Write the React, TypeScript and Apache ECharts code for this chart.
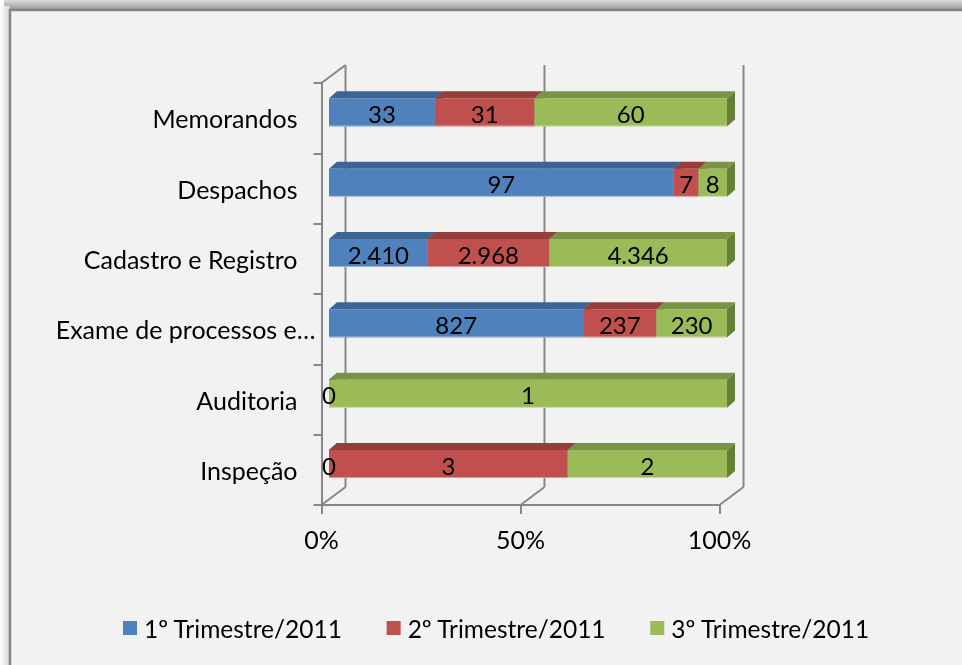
import React, { useEffect, useRef } from 'react';
import * as echarts from 'echarts';

// ---------- data ----------
const categories = [
  'Inspeção',
  'Auditoria',
  'Exame de processos e…',
  'Cadastro e Registro',
  'Despachos',
  'Memorandos',
];
const seriesNames = ['1º Trimestre/2011', '2º Trimestre/2011', '3º Trimestre/2011'];
const q1: (number | null)[] = [0, 0, 827, 2410, 97, 33];
const q2: (number | null)[] = [3, null, 237, 2968, 7, 31];
const q3: (number | null)[] = [2, 1, 230, 4346, 8, 60];
const xTicks = [0, 50, 100];

// ---------- styling ----------
const FRONT = ['#4F81BD', '#C0504D', '#9BBB59'];
const TOP = ['#3D6594', '#953E3C', '#7A9446'];
const SIDE = ['#32547C', '#7C3331', '#66803A'];
const AXIS = '#878787';
const FONT = 'Lato, "Open Sans", sans-serif';
const FS_CAT = 25;
const FS_LEG = 24.5;
const FS_LBL = 24;

const GRID_LEFT = 321.5;
const GRID_TOP = 83;
const GRID_W = 398;
const GRID_H = 422;
const BAR_SHIFT_X = 7.5;
const BAR_SHIFT_Y = -5.8;
const DEPTH_X = 24;
const DEPTH_Y = -18;
const BAR_DX = 8;
const BAR_DY = -7;

const fmt = (v: number) => String(v).replace(/\B(?=(\d{3})+(?!\d))/g, '.');

export default function App() {
  const ref = useRef<HTMLDivElement>(null);

  useEffect(() => {
    if (!ref.current) return;
    const chart = echarts.init(ref.current, undefined, { renderer: 'svg' });

    const all = [q1, q2, q3];
    const totals = categories.map((_, i) => all.reduce((s, arr) => s + (arr[i] ?? 0), 0));

    const barSeries = all.map((arr, k) => {
      const data: any[] = [];
      categories.forEach((_, i) => {
        const v = arr[i];
        if (v === null || v === undefined) return;
        let start = 0;
        for (let j = 0; j < k; j++) start += all[j][i] ?? 0;
        const s = (start / totals[i]) * 100;
        const e = ((start + v) / totals[i]) * 100;
        data.push([s, e, i, v]);
      });
      return {
        type: 'custom',
        name: seriesNames[k],
        xAxisIndex: 1,
        yAxisIndex: 1,
        clip: false,
        itemStyle: { color: FRONT[k] },
        encode: { x: [0, 1], y: 2 },
        data,
        renderItem: (params: any, api: any) => {
          const s = api.value(0);
          const e = api.value(1);
          const c = api.value(2);
          const raw = api.value(3);
          const p0 = api.coord([s, c]);
          const p1 = api.coord([e, c]);
          const band = api.size([0, 1])[1];
          const h = band * 0.4;
          const x0 = p0[0];
          const x1 = p1[0];
          const yT = p0[1] - h / 2;
          const yB = p0[1] + h / 2;
          return {
            type: 'group',
            children: [
              {
                type: 'polygon',
                shape: { points: [[x1, yT], [x1 + BAR_DX, yT + BAR_DY], [x1 + BAR_DX, yB + BAR_DY], [x1, yB]] },
                style: { fill: SIDE[k] },
              },
              {
                type: 'polygon',
                shape: { points: [[x0, yT], [x1, yT], [x1 + BAR_DX, yT + BAR_DY], [x0 + BAR_DX, yT + BAR_DY]] },
                style: { fill: TOP[k] },
              },
              {
                type: 'rect',
                shape: { x: x0, y: yT, width: Math.max(0, x1 - x0), height: h },
                style: { fill: FRONT[k] },
              },
              {
                type: 'line',
                shape: { x1: x0, y1: yB - 0.5, x2: x1, y2: yB - 0.5 },
                style: { stroke: 'rgba(255,255,255,0.45)', lineWidth: 1 },
              },
              {
                type: 'text',
                z2: 100,
                style: {
                  text: fmt(raw),
                  x: (x0 + x1) / 2,
                  y: p0[1] + 1,
                  align: 'center',
                  verticalAlign: 'middle',
                  fill: '#000',
                  fontSize: FS_LBL,
                  fontFamily: FONT,
                },
              },
            ],
          };
        },
      };
    });

    const frameSeries = {
      type: 'custom',
      name: 'frame',
      xAxisIndex: 0,
      yAxisIndex: 0,
      clip: false,
      silent: true,
      encode: { x: 0 },
      data: xTicks.map((t) => [t, 0]),
      renderItem: (params: any, api: any) => {
        const t = api.value(0);
        const cs = params.coordSys;
        const x = api.coord([t, 0])[0];
        const yTop = cs.y;
        const yBot = cs.y + cs.height;
        const ls = { stroke: AXIS, lineWidth: 2 };
        const children: any[] = [
          { type: 'line', shape: { x1: x + DEPTH_X, y1: yTop + DEPTH_Y, x2: x + DEPTH_X, y2: yBot + DEPTH_Y }, style: ls },
          { type: 'line', shape: { x1: x, y1: yBot, x2: x + DEPTH_X, y2: yBot + DEPTH_Y }, style: ls },
        ];
        if (t === 0) {
          children.push({ type: 'line', shape: { x1: x, y1: yTop, x2: x + DEPTH_X, y2: yTop + DEPTH_Y }, style: ls });
        }
        return { type: 'group', children };
      },
    };

    const option: any = {
      animation: false,
      color: FRONT,
      graphic: [
        {
          type: 'rect',
          z: -10,
          shape: { x: 4, y: 0, width: 958, height: 10 },
          style: {
            fill: new echarts.graphic.LinearGradient(0, 0, 0, 1, [
              { offset: 0, color: '#dcdcdc' },
              { offset: 1, color: '#959595' },
            ]),
          },
        },
        {
          type: 'rect',
          z: -10,
          shape: { x: 0, y: 6, width: 10, height: 659 },
          style: {
            fill: new echarts.graphic.LinearGradient(0, 0, 1, 0, [
              { offset: 0, color: '#ffffff' },
              { offset: 1, color: '#d2d2d2' },
            ]),
          },
        },
        {
          type: 'rect',
          z: -9,
          shape: { x: 10, y: 10, width: 980, height: 700 },
          style: { fill: '#f2f2f2', stroke: '#858585', lineWidth: 2.5 },
        },
      ],
      legend: {
        data: seriesNames,
        left: 123,
        top: 614,
        padding: 0,
        itemWidth: 14,
        itemHeight: 14,
        itemGap: 44,
        icon: 'rect',
        textStyle: {
          fontSize: FS_LEG,
          fontFamily: FONT,
          color: '#000',
          padding: [0, 0, 0, 2],
          lineHeight: 28,
        },
      },
      grid: [
        { left: GRID_LEFT, top: GRID_TOP, width: GRID_W, height: GRID_H },
        { left: GRID_LEFT + BAR_SHIFT_X, top: GRID_TOP + BAR_SHIFT_Y, width: GRID_W, height: GRID_H },
      ],
      xAxis: [
        {
          gridIndex: 0,
          type: 'value',
          min: 0,
          max: 100,
          interval: 50,
          axisLine: { show: true, lineStyle: { color: AXIS, width: 2 } },
          axisTick: { show: true, length: 9, lineStyle: { color: AXIS, width: 2 } },
          splitLine: { show: false },
          axisLabel: {
            formatter: '{value}%',
            fontSize: FS_CAT,
            fontFamily: FONT,
            color: '#000',
            margin: 21,
          },
        },
        {
          gridIndex: 1,
          type: 'value',
          min: 0,
          max: 100,
          show: false,
        },
      ],
      yAxis: [
        {
          gridIndex: 0,
          type: 'category',
          data: categories,
          axisLine: { show: true, lineStyle: { color: AXIS, width: 2 } },
          axisTick: { show: true, length: 8, lineStyle: { color: AXIS, width: 2 } },
          splitLine: { show: false },
          axisLabel: {
            margin: 6,
            interval: 0,
            formatter: (v: string) => (v.endsWith('…') ? `{b|${v}}` : `{a|${v}}`),
            rich: {
              a: { fontSize: FS_CAT, fontFamily: FONT, color: '#000', padding: [0, 18, 0, 0] },
              b: { fontSize: FS_CAT, fontFamily: FONT, color: '#000' },
            },
          },
        },
        {
          gridIndex: 1,
          type: 'category',
          data: categories,
          show: false,
        },
      ],
      series: [frameSeries, ...barSeries],
    };

    chart.setOption(option);
    return () => chart.dispose();
  }, []);

  return (
    <div
      ref={ref}
      style={{ position: 'fixed', left: 0, top: 0, width: 962, height: 665 }}
    />
  );
}
